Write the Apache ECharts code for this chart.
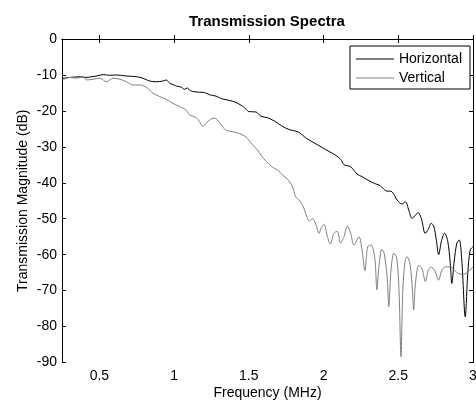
<!DOCTYPE html>
<html>
<head>
<meta charset="utf-8">
<script src="https://cdn.jsdelivr.net/npm/echarts@6/dist/echarts.min.js"></script>
<style>
html,body{margin:0;padding:0;background:#fff;}
#chart{width:476px;height:401px;}
</style>
</head>
<body>
<div id="chart"></div>
<script>
var xTicks = [0.5, 1, 1.5, 2, 2.5, 3];

var horizontalFreq = [0.25,0.28,0.30,0.33,0.37,0.41,0.45,0.48,0.525,0.57,0.615,0.68,0.75,0.79,0.837,0.88,0.925,0.948,0.97,1.0,1.015,1.048,1.07,1.09,1.103,1.125,1.17,1.203,1.237,1.281,1.325,1.392,1.448,1.481,1.5,1.548,1.581,1.625,1.67,1.725,1.77,1.81,1.837,1.881,1.937,1.992,2.037,2.08,2.115,2.137,2.18,2.225,2.258,2.303,2.348,2.38,2.415,2.458,2.492,2.525,2.548,2.57,2.592,2.615,2.632,2.655,2.68,2.70,2.72,2.737,2.755,2.77,2.79,2.81,2.83,2.848,2.858,2.875,2.892,2.908,2.925,2.948,2.965,2.981,3.0];
var horizontalDb = [-11.0,-10.8,-10.7,-10.6,-10.5,-10.7,-10.5,-10.3,-9.9,-10.1,-10.0,-10.3,-10.5,-10.9,-11.7,-11.9,-11.7,-11.4,-12.3,-12.8,-13.1,-13.4,-14.0,-13.6,-14.2,-14.6,-14.8,-14.9,-15.5,-15.9,-16.7,-17.3,-18.4,-19.5,-20.2,-20.3,-21.5,-21.9,-22.8,-24.3,-25.2,-25.6,-26.0,-27.5,-28.9,-30.2,-31.3,-32.3,-33.5,-35.0,-35.5,-37.6,-38.3,-39.4,-40.3,-40.8,-42.2,-42.5,-44.8,-45.9,-45.3,-47.6,-49.9,-49.0,-48.3,-50.0,-54.1,-53.0,-51.3,-52.0,-56.0,-60.0,-56.0,-54.0,-56.0,-62.4,-68.0,-61.5,-56.8,-55.9,-61.5,-77.3,-65.2,-58.7,-57.8];

var verticalFreq = [0.25,0.28,0.303,0.348,0.392,0.415,0.458,0.503,0.548,0.592,0.637,0.681,0.725,0.77,0.815,0.859,0.903,0.948,0.992,1.037,1.081,1.103,1.148,1.17,1.192,1.215,1.237,1.27,1.292,1.325,1.348,1.392,1.437,1.481,1.525,1.558,1.581,1.615,1.659,1.692,1.725,1.759,1.792,1.814,1.837,1.865,1.89,1.903,1.925,1.948,1.97,1.985,2.003,2.026,2.045,2.07,2.092,2.114,2.137,2.159,2.181,2.203,2.237,2.259,2.277,2.295,2.318,2.343,2.357,2.37,2.39,2.405,2.425,2.437,2.45,2.47,2.49,2.505,2.518,2.53,2.545,2.56,2.58,2.595,2.603,2.615,2.637,2.66,2.681,2.70,2.72,2.745,2.77,2.79,2.815,2.85,2.88,2.90,2.93,2.96,2.992,3.0];
var verticalDb = [-11.4,-10.9,-10.7,-10.9,-10.5,-11.4,-11.2,-10.9,-11.9,-10.9,-11.2,-11.9,-12.8,-12.8,-13.4,-15.1,-16.0,-16.8,-17.9,-18.8,-19.8,-21.1,-21.9,-23.0,-24.3,-23.5,-22.5,-22.0,-22.6,-24.4,-25.4,-25.8,-26.3,-27.3,-29.4,-30.9,-32.3,-34.0,-35.7,-36.4,-37.8,-39.0,-41.1,-43.9,-44.8,-46.7,-49.6,-50.6,-50.0,-51.5,-54.1,-52.5,-51.6,-55.0,-57.0,-54.0,-53.5,-56.8,-55.0,-52.0,-54.0,-57.3,-55.0,-59.2,-64.5,-57.8,-57.3,-61.0,-69.8,-63.4,-58.5,-59.5,-66.0,-74.5,-65.0,-59.6,-61.0,-70.0,-88.4,-70.0,-62.0,-60.6,-63.0,-70.0,-75.4,-68.0,-62.9,-64.0,-67.5,-64.5,-63.4,-64.5,-67.1,-64.5,-63.4,-63.4,-64.5,-65.2,-65.5,-65.0,-63.8,-63.4];

function pairs(xs, ys) {
  var out = [];
  for (var i = 0; i < xs.length; i++) out.push([xs[i], ys[i]]);
  return out;
}

var FONT = '"Liberation Sans", Arial, sans-serif';
var chart = echarts.init(document.getElementById('chart'), null, {renderer: 'canvas'});
var tickStyle = {show: true, inside: true, length: 4, lineStyle: {color: '#000', width: 1}};
var lineStyleAxis = {show: true, lineStyle: {color: '#000', width: 1}};

chart.setOption({
  animation: false,
  backgroundColor: '#fff',
  title: {
    text: 'Transmission Spectra',
    left: 189, top: 14, padding: 0,
    textStyle: {fontFamily: FONT, fontSize: 15, fontWeight: 'bold', color: '#000'}
  },
  legend: {
    orient: 'vertical',
    right: 6, top: 46,
    padding: [5, 8, 3, 6],
    itemGap: 3,
    itemWidth: 38, itemHeight: 1,
    icon: 'rect',
    backgroundColor: '#fff',
    borderColor: '#000', borderWidth: 1, borderRadius: 0,
    textStyle: {fontFamily: FONT, fontSize: 14, color: '#000', lineHeight: 16},
    data: ['Horizontal', 'Vertical']
  },
  grid: {left: 62, right: 3, top: 39, bottom: 38.5, containLabel: false, outerBoundsMode: 'none'},
  xAxis: [{
    type: 'value', min: 0.25, max: 3,
    name: 'Frequency (MHz)', nameLocation: 'middle', nameGap: 24, nameMoveOverlap: false,
    nameTextStyle: {fontFamily: FONT, fontSize: 14, color: '#000'},
    axisLine: lineStyleAxis,
    axisTick: Object.assign({customValues: xTicks}, tickStyle),
    axisLabel: {customValues: xTicks, fontFamily: FONT, fontSize: 14, color: '#000', margin: 7,
      formatter: function (v) { return String(v); }},
    splitLine: {show: false}
  }, {
    type: 'value', min: 0.25, max: 3, position: 'top',
    axisLine: lineStyleAxis,
    axisTick: Object.assign({customValues: xTicks}, tickStyle),
    axisLabel: {show: false},
    splitLine: {show: false}
  }],
  yAxis: [{
    type: 'value', min: -90, max: 0, interval: 10,
    name: 'Transmission Magnitude (dB)', nameLocation: 'middle', nameGap: 32, nameMoveOverlap: false,
    nameTextStyle: {fontFamily: FONT, fontSize: 14, color: '#000'},
    axisLine: lineStyleAxis,
    axisTick: tickStyle,
    axisLabel: {fontFamily: FONT, fontSize: 14, color: '#000', margin: 5},
    splitLine: {show: false}
  }, {
    type: 'value', min: -90, max: 0, interval: 10, position: 'right',
    axisLine: lineStyleAxis,
    axisTick: tickStyle,
    axisLabel: {show: false},
    splitLine: {show: false}
  }],
  series: [{
    name: 'Horizontal', type: 'line', xAxisIndex: 0, yAxisIndex: 0,
    data: pairs(horizontalFreq, horizontalDb),
    showSymbol: false, smooth: 0.3,
    lineStyle: {color: '#000', width: 1}, itemStyle: {color: '#000'}
  }, {
    name: 'Vertical', type: 'line', xAxisIndex: 0, yAxisIndex: 0,
    data: pairs(verticalFreq, verticalDb),
    showSymbol: false, smooth: 0.3,
    lineStyle: {color: '#808080', width: 1}, itemStyle: {color: '#808080'}
  }]
});
</script>
</body>
</html>
